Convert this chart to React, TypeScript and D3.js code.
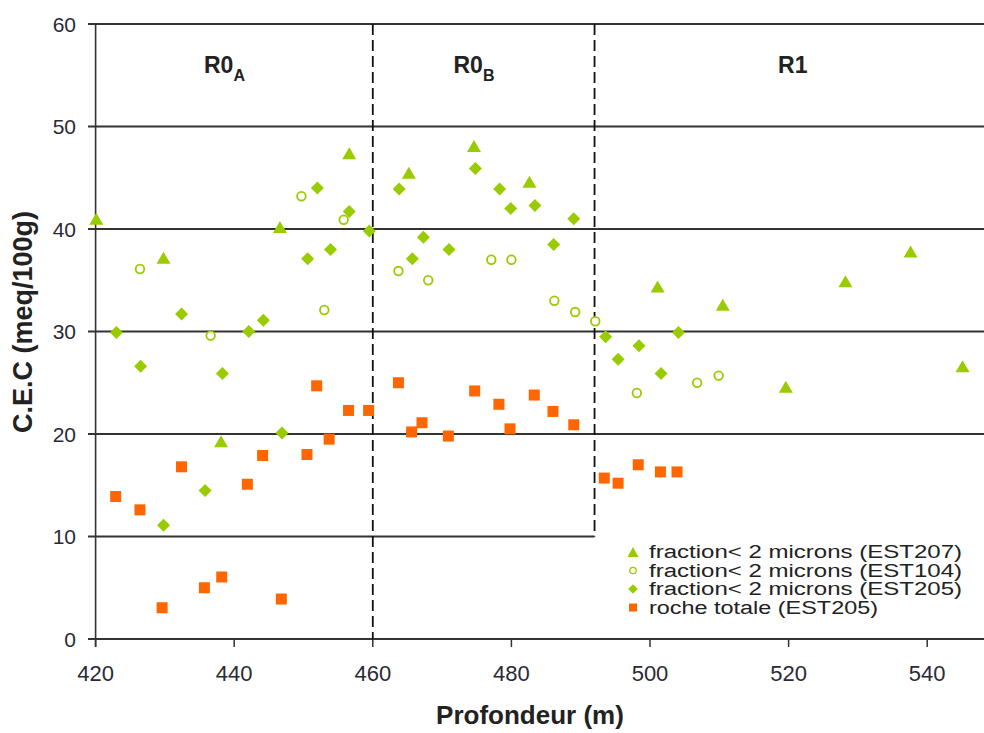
import React from "react";
import * as d3 from "d3";

// EST207 fraction < 2 microns (triangles)
const triX = [420.1, 429.8, 438.1, 446.6, 456.6, 465.2, 474.6, 482.6, 501.1, 510.5, 519.6, 528.2, 537.6, 545.1];
const triY = [41.0, 37.2, 19.3, 40.2, 47.4, 45.5, 48.1, 44.6, 34.4, 32.6, 24.6, 34.9, 37.8, 26.6];
// EST104 fraction < 2 microns (open circles)
const cirX = [426.4, 436.6, 449.7, 453.0, 455.8, 463.7, 468.0, 477.1, 480.0, 486.2, 489.2, 492.1, 498.1, 506.8, 509.9];
const cirY = [36.1, 29.6, 43.2, 32.1, 40.9, 35.9, 35.0, 37.0, 37.0, 33.0, 31.9, 31.0, 24.0, 25.0, 25.7];
// EST205 fraction < 2 microns (diamonds)
const diaX = [423.0, 426.5, 429.8, 432.4, 435.8, 438.3, 442.1, 444.2, 446.9, 450.6, 452.0, 453.9, 456.6, 459.5, 463.8, 465.7, 467.3, 471.0, 474.8, 478.3, 479.9, 483.4, 486.1, 489.0, 493.6, 495.4, 498.4, 501.6, 504.1];
const diaY = [29.9, 26.6, 11.1, 31.7, 14.5, 25.9, 30.0, 31.1, 20.1, 37.1, 44.0, 38.0, 41.7, 39.8, 43.9, 37.1, 39.2, 38.0, 45.9, 43.9, 42.0, 42.3, 38.5, 41.0, 29.5, 27.3, 28.6, 25.9, 29.9];
// EST205 roche totale (squares)
const sqX = [422.9, 426.4, 429.6, 432.4, 435.7, 438.2, 441.9, 444.1, 446.8, 450.5, 451.9, 453.7, 456.5, 459.4, 463.7, 465.6, 467.1, 470.9, 474.7, 478.2, 479.8, 483.3, 486.0, 489.0, 493.4, 495.4, 498.3, 501.5, 503.9];
const sqY = [13.9, 12.6, 3.05, 16.8, 5.0, 6.05, 15.1, 17.9, 3.9, 18.0, 24.7, 19.5, 22.3, 22.3, 25.0, 20.2, 21.1, 19.8, 24.2, 22.9, 20.5, 23.8, 22.2, 20.9, 15.7, 15.2, 17.0, 16.3, 16.3];

const xTicks = [420, 440, 460, 480, 500, 520, 540];
const yTicks = [0, 10, 20, 30, 40, 50, 60];
const legendLabels = [
  "fraction< 2 microns (EST207)",
  "fraction< 2 microns (EST104)",
  "fraction< 2 microns (EST205)",
  "roche totale (EST205)",
];
const regionNames = [
  { main: "R0", sub: "A", x: 438.6 },
  { main: "R0", sub: "B", x: 474.6 },
  { main: "R1", sub: "", x: 520.6 },
];
const boundaryA = 460;
const boundaryB = 492;

const GREEN = "#99cc00";
const ORANGE = "#ff6600";
const GRID = "#333333";

const tri = (cx: number, cy: number, w: number, h: number) =>
  `M${cx},${cy - h / 2}L${cx + w / 2},${cy + h / 2}L${cx - w / 2},${cy + h / 2}Z`;
const dia = (cx: number, cy: number, r: number) =>
  `M${cx},${cy - r}L${cx + r},${cy}L${cx},${cy + r}L${cx - r},${cy}Z`;

export default function App() {
  const W = 984, H = 733;
  const x = d3.scaleLinear().domain([420, 550]).range([95.6, 95.6 + 130 * 6.93]);
  const y = d3.scaleLinear().domain([0, 60]).range([639, 24]);
  const font = "'Liberation Sans', Arial, sans-serif";

  return (
    <svg width={W} height={H} style={{ position: "absolute", left: 0, top: 0, background: "#fff" }} fontFamily={font}>
      {/* gridlines */}
      {yTicks.filter((t) => t !== 0 && t !== 10).map((t) => (
        <line key={"g" + t} x1={88} x2={W} y1={y(t)} y2={y(t)} stroke={GRID} strokeWidth={2} />
      ))}
      <line x1={88} x2={x(boundaryB)} y1={y(10)} y2={y(10)} stroke={GRID} strokeWidth={2} />
      {/* x axis */}
      <line x1={88} x2={W} y1={y(0)} y2={y(0)} stroke={GRID} strokeWidth={2} />
      {xTicks.map((t) => (
        <line key={"xt" + t} x1={x(t)} x2={x(t)} y1={y(0)} y2={y(0) + 8} stroke={GRID} strokeWidth={1.5} />
      ))}
      {/* y axis */}
      <line x1={x(420)} x2={x(420)} y1={y(60)} y2={y(0) + 8} stroke={GRID} strokeWidth={1.6} />
      {/* region boundaries */}
      <line x1={x(boundaryA)} x2={x(boundaryA)} y1={y(60)} y2={y(0)} stroke="#111" strokeWidth={1.8} strokeDasharray="11,5" />
      <line x1={x(boundaryB)} x2={x(boundaryB)} y1={y(60)} y2={y(10)} stroke="#111" strokeWidth={1.8} strokeDasharray="11,5" />
      {/* tick labels */}
      {yTicks.map((t) => (
        <text key={"yl" + t} x={76} y={y(t) + 7.5} textAnchor="end" fontSize={21} fill="#2a2a35">{t}</text>
      ))}
      {xTicks.map((t) => (
        <text key={"xl" + t} x={x(t)} y={681} textAnchor="middle" fontSize={22} fill="#2a2a35">{t}</text>
      ))}
      {/* axis titles */}
      <text x={530} y={724} textAnchor="middle" fontSize={26} fontWeight="bold" fill="#222">Profondeur (m)</text>
      <text transform={`translate(32,322) rotate(-90)`} textAnchor="middle" fontSize={27} fontWeight="bold" fill="#222">C.E.C (meq/100g)</text>
      {/* region labels */}
      {regionNames.map((r, i) => (
        <text key={"r" + i} x={x(r.x)} y={73} textAnchor="middle" fontSize={23} fontWeight="bold" fill="#222">
          {r.main}
          {r.sub && <tspan dy={8} fontSize={16}>{r.sub}</tspan>}
        </text>
      ))}
      {/* data: squares */}
      {sqX.map((v, i) => (
        <rect key={"s" + i} x={x(v) - 5.5} y={y(sqY[i]) - 5.5} width={11} height={11} fill={ORANGE} />
      ))}
      {/* diamonds */}
      {diaX.map((v, i) => (
        <path key={"d" + i} d={dia(x(v), y(diaY[i]), 6.5)} fill={GREEN} />
      ))}
      {/* circles */}
      {cirX.map((v, i) => (
        <circle key={"c" + i} cx={x(v)} cy={y(cirY[i])} r={4.3} fill="#fff" stroke={GREEN} strokeWidth={1.8} />
      ))}
      {/* triangles */}
      {triX.map((v, i) => (
        <path key={"t" + i} d={tri(x(v), y(triY[i]), 14, 12)} fill={GREEN} />
      ))}
      {/* legend */}
      {legendLabels.map((l, i) => {
        const by = 558 + i * 18.5;
        const cy = by - 6;
        return (
          <g key={"lg" + i}>
            {i === 0 && <path d={tri(633, cy, 11, 10)} fill={GREEN} />}
            {i === 1 && <circle cx={633} cy={cy} r={3.2} fill="#fff" stroke={GREEN} strokeWidth={1.3} />}
            {i === 2 && <path d={dia(633, cy, 4.8)} fill={GREEN} />}
            {i === 3 && <rect x={629} y={cy - 4} width={8} height={8} fill={ORANGE} />}
            <text x={649} y={by} fontSize={18} fill="#222" textLength={i < 3 ? 313 : 229} lengthAdjust="spacingAndGlyphs">{l}</text>
          </g>
        );
      })}
    </svg>
  );
}
